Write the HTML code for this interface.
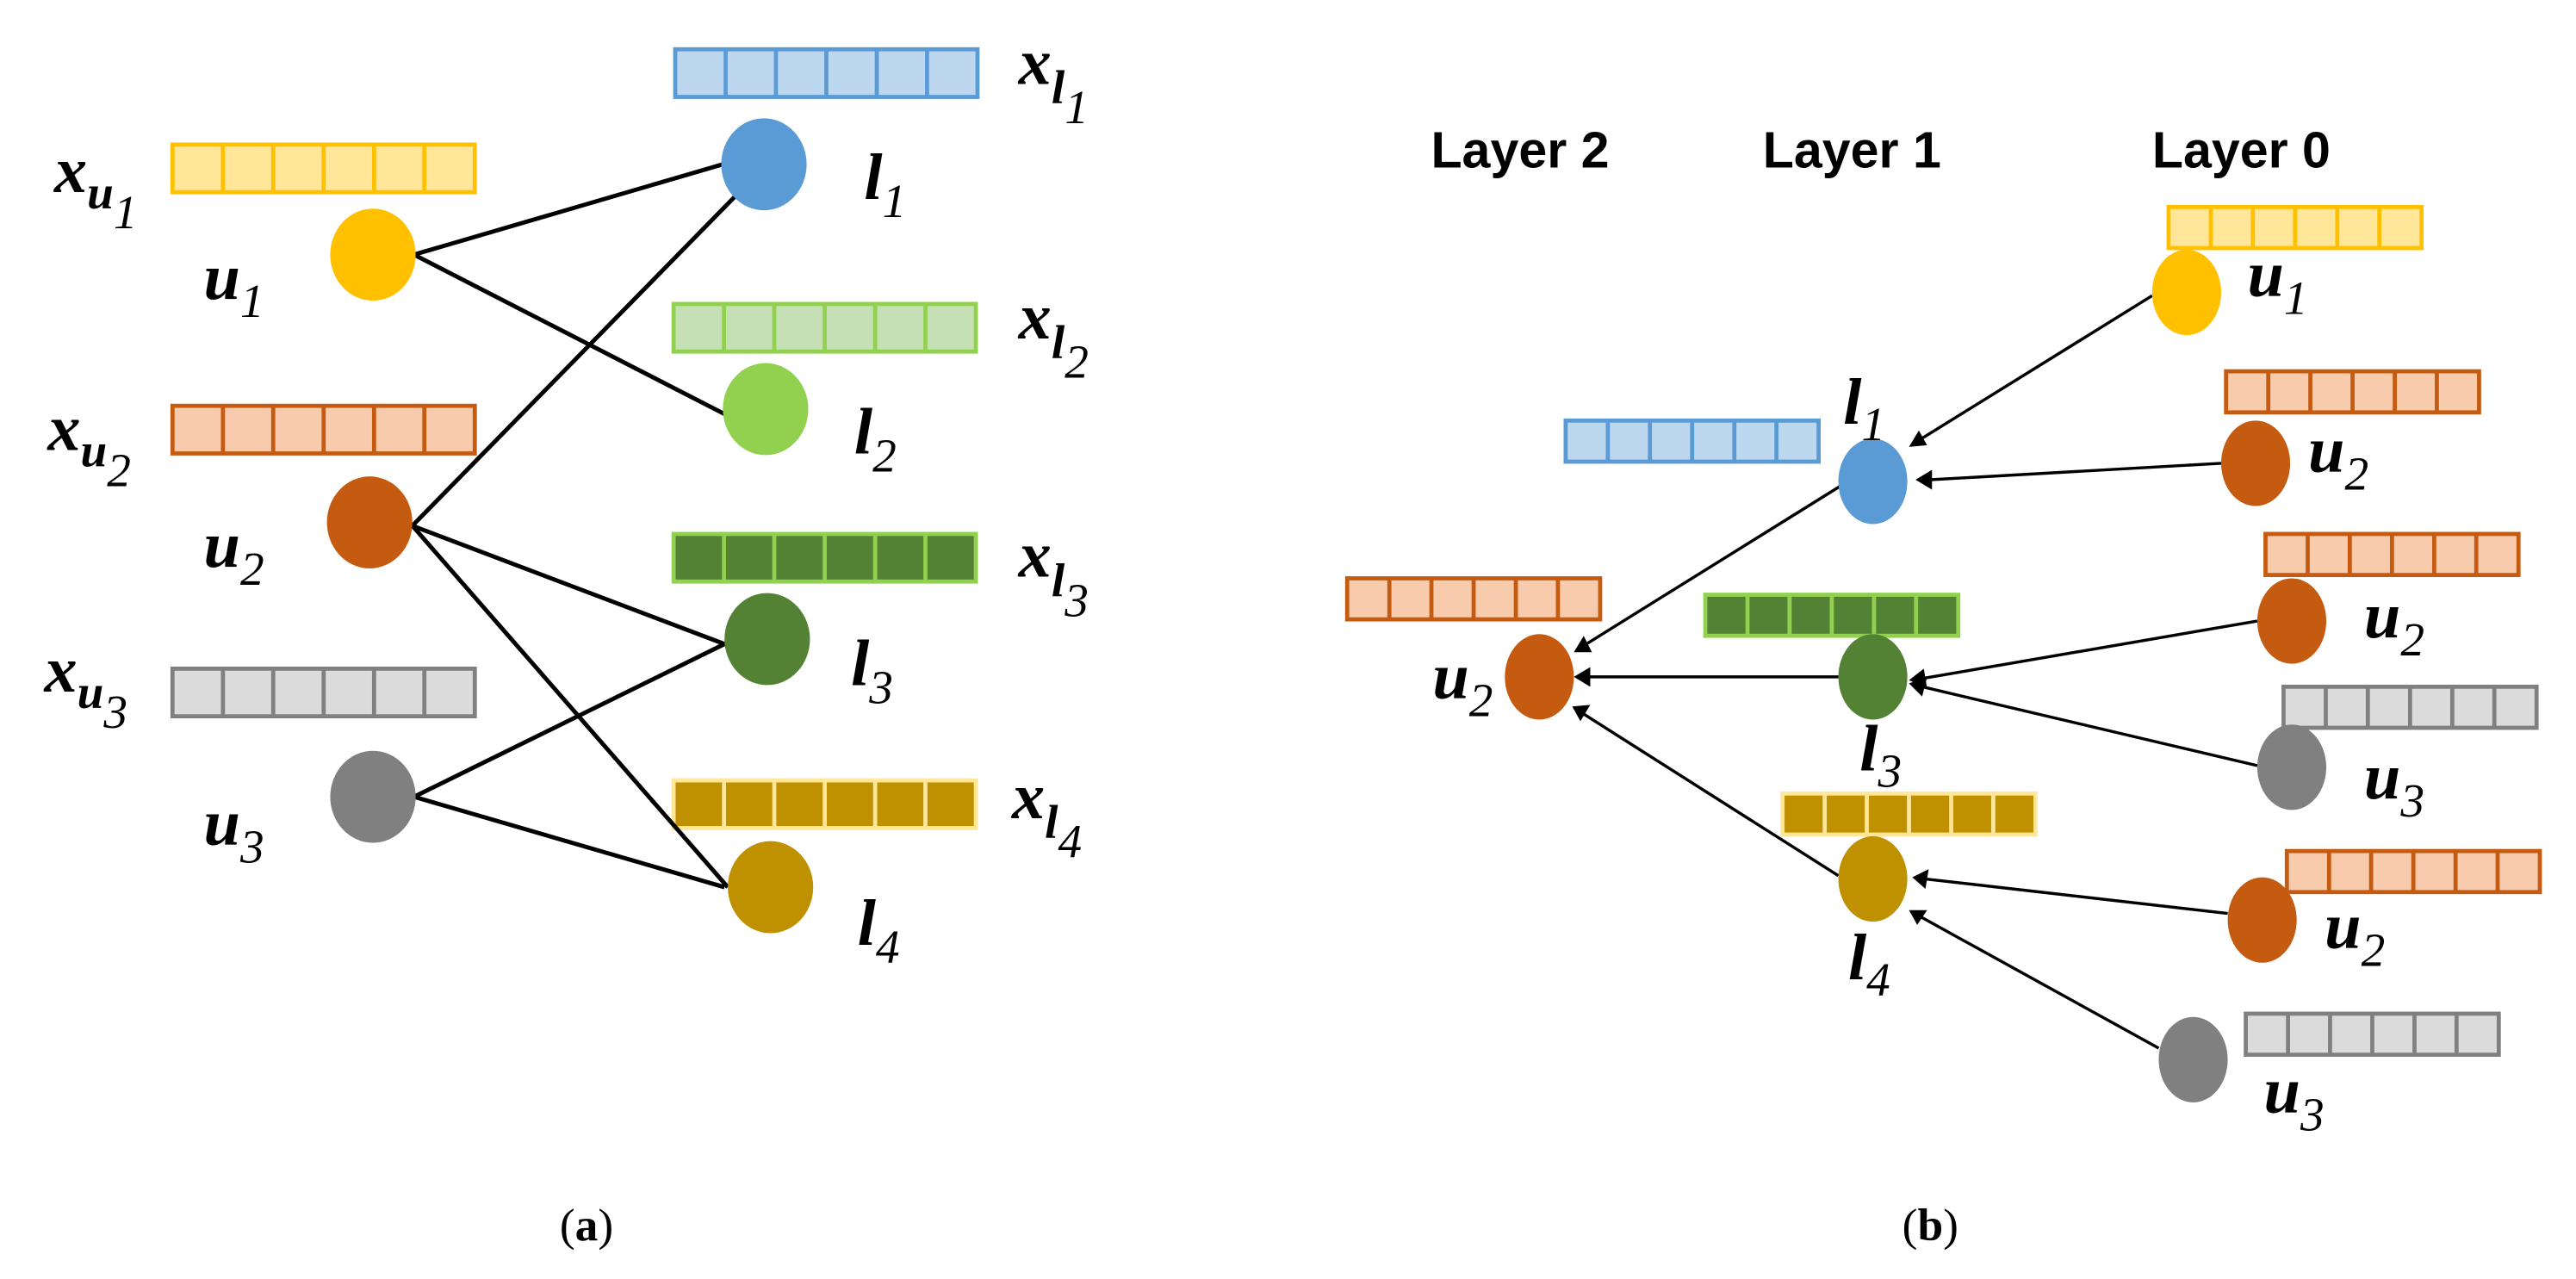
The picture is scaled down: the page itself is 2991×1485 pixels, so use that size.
<!DOCTYPE html>
<html><head><meta charset="utf-8"><style>
html,body{margin:0;padding:0;background:#fff}
svg{display:block}
.m{font-family:"Liberation Serif",serif;font-style:italic;font-weight:bold;font-size:40px;fill:#000}
.s{font-size:29px}
.L{font-family:"Liberation Sans","DejaVu Sans",sans-serif;font-weight:bold;font-size:31px}
.c{font-family:"Liberation Serif",serif;font-size:28px}
</style></head><body>
<svg width="2991" height="1485" viewBox="0 0 1568 778.5" xmlns="http://www.w3.org/2000/svg">
<defs>
<path id="d6" d="M30.7 0V29M61.3 0V29M92 0V29M122.7 0V29M153.3 0V29"/>
<path id="d5" d="M25.7 0V25M51.3 0V25M77 0V25M102.7 0V25M128.3 0V25"/>
</defs>
<g stroke-width="2.5">
<g transform="translate(105,88)" fill="#FFE699" stroke="#FFC000"><rect width="184" height="29"/><use href="#d6"/></g>
<g transform="translate(105,247)" fill="#F8CBAD" stroke="#C55A11"><rect width="184" height="29"/><use href="#d6"/></g>
<g transform="translate(105,407)" fill="#DBDBDB" stroke="#808080"><rect width="184" height="29"/><use href="#d6"/></g>
<g transform="translate(411,30)" fill="#BDD7EE" stroke="#5B9BD5"><rect width="184" height="29"/><use href="#d6"/></g>
<g transform="translate(410,185)" fill="#C5E0B4" stroke="#92D050"><rect width="184" height="29"/><use href="#d6"/></g>
<g transform="translate(410,325)" fill="#548235" stroke="#92D050"><rect width="184" height="29"/><use href="#d6"/></g>
<g transform="translate(410,475)" fill="#BF9000" stroke="#FFE699"><rect width="184" height="29"/><use href="#d6"/></g>
<g transform="translate(1320,126)" fill="#FFE699" stroke="#FFC000"><rect width="154" height="25"/><use href="#d5"/></g>
<g transform="translate(1355,226)" fill="#F8CBAD" stroke="#C55A11"><rect width="154" height="25"/><use href="#d5"/></g>
<g transform="translate(953,256)" fill="#BDD7EE" stroke="#5B9BD5"><rect width="154" height="25"/><use href="#d5"/></g>
<g transform="translate(1379,325)" fill="#F8CBAD" stroke="#C55A11"><rect width="154" height="25"/><use href="#d5"/></g>
<g transform="translate(820,352)" fill="#F8CBAD" stroke="#C55A11"><rect width="154" height="25"/><use href="#d5"/></g>
<g transform="translate(1038,362)" fill="#548235" stroke="#92D050"><rect width="154" height="25"/><use href="#d5"/></g>
<g transform="translate(1390,418)" fill="#DBDBDB" stroke="#808080"><rect width="154" height="25"/><use href="#d5"/></g>
<g transform="translate(1085,483)" fill="#BF9000" stroke="#FFE699"><rect width="154" height="25"/><use href="#d5"/></g>
<g transform="translate(1392,518)" fill="#F8CBAD" stroke="#C55A11"><rect width="154" height="25"/><use href="#d5"/></g>
<g transform="translate(1367,617)" fill="#DBDBDB" stroke="#808080"><rect width="154" height="25"/><use href="#d5"/></g>
</g>
<g stroke="#000" stroke-width="2.6">
<line x1="252" y1="155" x2="440" y2="100"/>
<line x1="252" y1="155" x2="441" y2="252"/>
<line x1="251" y1="320" x2="447" y2="120"/>
<line x1="251" y1="320" x2="441" y2="392"/>
<line x1="251" y1="320" x2="443" y2="540"/>
<line x1="252" y1="485" x2="441" y2="392"/>
<line x1="252" y1="485" x2="441" y2="540"/>
</g>
<ellipse cx="227" cy="155" rx="26" ry="28" fill="#FFC000"/>
<ellipse cx="225" cy="318" rx="26" ry="28" fill="#C55A11"/>
<ellipse cx="227" cy="485" rx="26" ry="28" fill="#808080"/>
<ellipse cx="465" cy="100" rx="26" ry="28" fill="#5B9BD5"/>
<ellipse cx="466" cy="249" rx="26" ry="28" fill="#92D050"/>
<ellipse cx="467" cy="389" rx="26" ry="28" fill="#548235"/>
<ellipse cx="469" cy="540" rx="26" ry="28" fill="#BF9000"/>
<g stroke="#000" stroke-width="1.8" fill="none">
<line x1="1310" y1="180" x2="1168" y2="268"/>
<line x1="1352" y1="282" x2="1175" y2="292"/>
<line x1="1120" y1="296" x2="964" y2="393"/>
<line x1="1119" y1="412" x2="966" y2="412"/>
<line x1="1119" y1="533" x2="963" y2="434"/>
<line x1="1374" y1="378" x2="1170" y2="413"/>
<line x1="1374" y1="466" x2="1170" y2="418"/>
<line x1="1356" y1="556" x2="1172" y2="535"/>
<line x1="1314" y1="638" x2="1169" y2="558"/>
</g>
<g fill="#000">
<polygon points="1162,272 1168,262 1173,271"/>
<polygon points="1166,292 1176,286 1176,298"/>
<polygon points="958,397 964,387 969,397"/>
<polygon points="958,412 968,406 968,418"/>
<polygon points="957,430 968,429 962,439"/>
<polygon points="1162,414 1171,407 1173,419"/>
<polygon points="1162,416 1173,412 1170,424"/>
<polygon points="1164,534 1174,529 1172,541"/>
<polygon points="1162,554 1173,554 1167,563"/>
</g>
<ellipse cx="1331" cy="178" rx="21" ry="26" fill="#FFC000"/>
<ellipse cx="1140" cy="293" rx="21" ry="26" fill="#5B9BD5"/>
<ellipse cx="1373" cy="282" rx="21" ry="26" fill="#C55A11"/>
<ellipse cx="1395" cy="378" rx="21" ry="26" fill="#C55A11"/>
<ellipse cx="937" cy="412" rx="21" ry="26" fill="#C55A11"/>
<ellipse cx="1140" cy="412" rx="21" ry="26" fill="#548235"/>
<ellipse cx="1395" cy="467" rx="21" ry="26" fill="#808080"/>
<ellipse cx="1140" cy="535" rx="21" ry="26" fill="#BF9000"/>
<ellipse cx="1377" cy="560" rx="21" ry="26" fill="#C55A11"/>
<ellipse cx="1335" cy="645" rx="21" ry="26" fill="#808080"/>
<!-- left labels -->
<text class="m" x="33" y="117">x<tspan class="s" dy="10">u</tspan><tspan class="s" dy="12" font-weight="normal">1</tspan></text>
<text class="m" x="29" y="274">x<tspan class="s" dy="10">u</tspan><tspan class="s" dy="12" font-weight="normal">2</tspan></text>
<text class="m" x="27" y="421">x<tspan class="s" dy="10">u</tspan><tspan class="s" dy="12" font-weight="normal">3</tspan></text>
<text class="m" x="124" y="182">u<tspan class="s" dy="11" font-weight="normal">1</tspan></text>
<text class="m" x="124" y="345">u<tspan class="s" dy="11" font-weight="normal">2</tspan></text>
<text class="m" x="124" y="514">u<tspan class="s" dy="11" font-weight="normal">3</tspan></text>
<text class="m" x="526" y="121">l<tspan class="s" dy="11" font-weight="normal">1</tspan></text>
<text class="m" x="520" y="276">l<tspan class="s" dy="11" font-weight="normal">2</tspan></text>
<text class="m" x="518" y="417">l<tspan class="s" dy="11" font-weight="normal">3</tspan></text>
<text class="m" x="522" y="575">l<tspan class="s" dy="11" font-weight="normal">4</tspan></text>
<text class="m" x="620" y="51">x<tspan class="s" dy="12">l</tspan><tspan class="s" dy="12" font-weight="normal">1</tspan></text>
<text class="m" x="620" y="206">x<tspan class="s" dy="12">l</tspan><tspan class="s" dy="12" font-weight="normal">2</tspan></text>
<text class="m" x="620" y="351">x<tspan class="s" dy="12">l</tspan><tspan class="s" dy="12" font-weight="normal">3</tspan></text>
<text class="m" x="616" y="498">x<tspan class="s" dy="12">l</tspan><tspan class="s" dy="12" font-weight="normal">4</tspan></text>
<!-- right labels -->
<text class="L" x="871" y="102">Layer 2</text>
<text class="L" x="1073" y="102">Layer 1</text>
<text class="L" x="1310" y="102">Layer 0</text>
<text class="m" x="1368" y="180">u<tspan class="s" dy="11" font-weight="normal">1</tspan></text>
<text class="m" x="1122" y="258">l<tspan class="s" dy="10" font-weight="normal">1</tspan></text>
<text class="m" x="1405" y="287">u<tspan class="s" dy="11" font-weight="normal">2</tspan></text>
<text class="m" x="1439" y="388">u<tspan class="s" dy="11" font-weight="normal">2</tspan></text>
<text class="m" x="872" y="425">u<tspan class="s" dy="11" font-weight="normal">2</tspan></text>
<text class="m" x="1132" y="469">l<tspan class="s" dy="10" font-weight="normal">3</tspan></text>
<text class="m" x="1439" y="486">u<tspan class="s" dy="11" font-weight="normal">3</tspan></text>
<text class="m" x="1125" y="596">l<tspan class="s" dy="10" font-weight="normal">4</tspan></text>
<text class="m" x="1415" y="577">u<tspan class="s" dy="11" font-weight="normal">2</tspan></text>
<text class="m" x="1378" y="677">u<tspan class="s" dy="11" font-weight="normal">3</tspan></text>
<text class="c" x="357" y="755" text-anchor="middle">(<tspan font-weight="bold">a</tspan>)</text>
<text class="c" x="1175" y="755" text-anchor="middle">(<tspan font-weight="bold">b</tspan>)</text>
</svg>
</body></html>
